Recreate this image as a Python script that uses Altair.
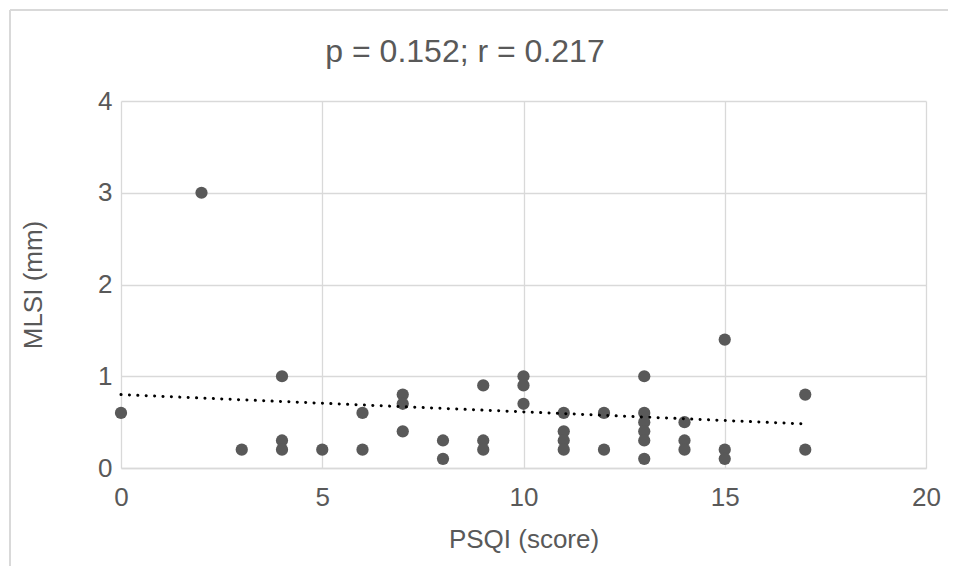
import altair as alt
import pandas as pd

# PSQI score (x) and MLSI in mm (y)
psqi = [0, 2, 3, 4, 4, 4, 5, 6, 6, 7, 7, 7, 8, 8, 9, 9, 9,
        10, 10, 10, 11, 11, 11, 11, 12, 12,
        13, 13, 13, 13, 13, 13, 14, 14, 14, 15, 15, 15, 17, 17]
mlsi = [0.6, 3.0, 0.2, 1.0, 0.3, 0.2, 0.2, 0.6, 0.2, 0.8, 0.7, 0.4, 0.3, 0.1, 0.9, 0.3, 0.2,
        1.0, 0.9, 0.7, 0.6, 0.4, 0.3, 0.2, 0.6, 0.2,
        1.0, 0.6, 0.5, 0.4, 0.3, 0.1, 0.5, 0.3, 0.2, 1.4, 0.2, 0.1, 0.8, 0.2]

# linear trendline end points
trend_x = [0, 17]
trend_y = [0.80, 0.48]

x_ticks = [0, 5, 10, 15, 20]
y_ticks = [0, 1, 2, 3, 4]
title_text = "p = 0.152; r = 0.217"

df = pd.DataFrame({"psqi": psqi, "mlsi": mlsi})
tdf = pd.DataFrame({"psqi": trend_x, "mlsi": trend_y})

GREY = "#595959"
GRID = "#d9d9d9"
FONT = "Liberation Sans"

x_enc = alt.X("psqi:Q", scale=alt.Scale(domain=[0, 20], nice=False),
              axis=alt.Axis(values=x_ticks, title="PSQI (score)", grid=True,
                            labelFlush=False, labelPadding=16, titlePadding=16))
y_enc = alt.Y("mlsi:Q", scale=alt.Scale(domain=[0, 4], nice=False),
              axis=alt.Axis(values=y_ticks, title="MLSI (mm)", grid=True, format="d",
                            labelFlush=False, labelPadding=9, titlePadding=51))

points = alt.Chart(df).mark_circle(size=150, color=GREY, opacity=1).encode(x=x_enc, y=y_enc)

trend = alt.Chart(tdf).mark_line(
    color="black", strokeWidth=3, strokeDash=[0.1, 8.3], strokeCap="round"
).encode(x="psqi:Q", y="mlsi:Q")

# outer chart-area frame (top and left edges visible in the reference)
frame_top = alt.Chart(df).mark_rule(stroke=GRID, strokeWidth=1.5).encode(
    x=alt.value(-111), x2=alt.value(827), y=alt.value(-91)
)
frame_left = alt.Chart(df).mark_rule(stroke=GRID, strokeWidth=1.5).encode(
    x=alt.value(-111), y=alt.value(-91), y2=alt.value(700)
)

title = alt.Chart(pd.DataFrame({"t": [title_text]})).mark_text(
    font=FONT, fontSize=32, color=GREY, align="center", baseline="middle"
).encode(text="t:N", x=alt.value(344), y=alt.value(-49))

chart = alt.layer(frame_top, frame_left, points, trend, title).properties(
    width=805, height=367,
    autosize=alt.AutoSizeParams(type="none"),
    padding={"left": 113, "top": 93, "right": 22, "bottom": 98},
).configure_view(stroke=None).configure_axis(
    labelFont=FONT, titleFont=FONT, labelFontSize=26, titleFontSize=26,
    labelColor=GREY, titleColor=GREY, titleFontWeight="normal",
    gridColor=GRID, gridWidth=1.3, domainColor=GRID, domainWidth=1.5,
    ticks=False,
).configure_axisY(domain=False)

chart.save("out.html", embed_options={"renderer": "svg", "actions": False})
